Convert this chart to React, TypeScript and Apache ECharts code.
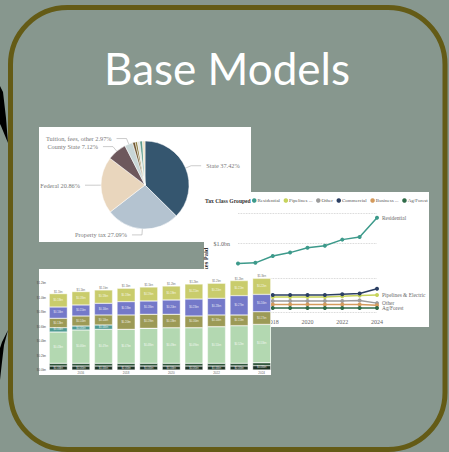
import React, { useEffect, useRef } from "react";
import * as echarts from "echarts";

// ---------- data ----------
const pieNames = ["State", "Property tax", "Federal", "County State", "Tuition, fees, other", "Misc A", "Misc B", "Misc C", "Misc D", "Misc E"];
const pieValues = [37.42, 27.09, 20.86, 7.12, 2.97, 0.95, 0.8, 0.9, 1.0, 0.89];
const pieLabeled = [true, true, true, true, true, false, false, false, false, false];
const pieColors = ["#35566f", "#b4c3d0", "#e9d6bd", "#6d585c", "#c8d6d6", "#6e5530", "#8c7c3f", "#e0e4dc", "#5e9c8d", "#efe2c3"];

const lineYears = ["2016", "2017", "2018", "2019", "2020", "2021", "2022", "2023", "2024"];
const lineYearShown = [false, false, true, false, true, false, true, false, true];
const residential = [0.71, 0.72, 0.82, 0.87, 0.94, 0.97, 1.06, 1.1, 1.38];
const pipelines = [0.21, 0.21, 0.22, 0.22, 0.22, 0.22, 0.23, 0.24, 0.25];
const otherTax = [0.16, 0.16, 0.16, 0.16, 0.16, 0.16, 0.16, 0.17, 0.13];
const commercial = [0.24, 0.24, 0.25, 0.25, 0.25, 0.25, 0.26, 0.27, 0.34];
const business = [0.11, 0.11, 0.11, 0.11, 0.11, 0.11, 0.11, 0.11, 0.1];
const agForest = [0.06, 0.06, 0.06, 0.06, 0.06, 0.06, 0.06, 0.06, 0.06];
const lineNames = ["Residential", "Pipelines & Electric", "Other", "Commercial", "Business Personal", "Ag/Forest"];
const lineColors = ["#3d9a8b", "#c6d35c", "#9c9c9c", "#2b3f63", "#d49a5c", "#2f6b48"];
const lineEndLabel = [true, true, true, false, false, true];
const lineTicksShown = [1.0];

const barYears = ["2015", "2016", "2017", "2018", "2019", "2020", "2021", "2022", "2023", "2024"];
const darkA = [0.055, 0.055, 0.055, 0.055, 0.055, 0.055, 0.055, 0.055, 0.055, 0.06];
const darkB = [0.037, 0.037, 0.037, 0.037, 0.037, 0.037, 0.037, 0.037, 0.037, 0.04];
const lightGreen = [0.432, 0.46, 0.469, 0.469, 0.483, 0.492, 0.492, 0.506, 0.52, 0.529];
const teal = [0.06, 0.055, 0.06, 0, 0, 0, 0, 0, 0, 0];
const olive = [0.129, 0.138, 0.138, 0.198, 0.193, 0.184, 0.161, 0.161, 0.147, 0.175];
const blue = [0.156, 0.152, 0.161, 0.184, 0.184, 0.198, 0.234, 0.23, 0.267, 0.239];
const yellow = [0.184, 0.184, 0.184, 0.184, 0.193, 0.193, 0.207, 0.207, 0.207, 0.221];
const barSeriesNames = ["Ag/Forest", "Other", "Residential", "Business Personal", "Pipelines & Electric", "Commercial", "Industrial"];
const barSeriesData = [darkA, darkB, lightGreen, teal, olive, blue, yellow];
const barColors = ["#1d3325", "#2d5439", "#b3d8b1", "#4f9a92", "#9c9a56", "#7479c9", "#c9cc6c"];

const SERIF = "'Liberation Serif', 'DejaVu Serif', serif";

export default function App() {
  const ref = useRef<HTMLDivElement>(null);

  useEffect(() => {
    if (!ref.current) return;
    const chart = echarts.init(ref.current, undefined, { renderer: "svg" });

    const totals = barYears.map((_, i) => barSeriesData.reduce((s, arr) => s + arr[i], 0));

    const lineSeries = lineNames.map((name, k) => ({
      type: "line",
      name,
      xAxisIndex: 0,
      yAxisIndex: 0,
      data: [residential, pipelines, otherTax, commercial, business, agForest][k],
      color: lineColors[k],
      symbol: "circle",
      symbolSize: 4,
      lineStyle: { width: 1.5, color: lineColors[k] },
      itemStyle: { color: lineColors[k] },
      z: 4,
      endLabel: {
        show: lineEndLabel[k],
        formatter: "{a}",
        fontSize: 5.4,
        fontFamily: SERIF,
        color: "#6a6a6a",
        distance: 5,
      },
    }));

    const barSeries: any[] = barSeriesNames.map((name, k) => ({
      type: "bar",
      name,
      stack: "total",
      xAxisIndex: 1,
      yAxisIndex: 1,
      data: barSeriesData[k],
      barWidth: "80%",
      clip: false,
      z: 6,
      itemStyle: { color: barColors[k], borderColor: "#ffffff", borderWidth: 0.4 },
      label: {
        show: true,
        position: "inside",
        fontSize: 2.6,
        color: "rgba(255,255,255,0.85)",
        formatter: (p: any) => (p.value >= 0.05 ? "$" + Number(p.value).toFixed(2) + "bn" : ""),
      },
    }));
    barSeries.push({
      type: "bar",
      name: "Total",
      stack: "total",
      xAxisIndex: 1,
      yAxisIndex: 1,
      data: barYears.map(() => 0),
      barWidth: "80%",
      clip: false,
      z: 6,
      itemStyle: { color: "transparent" },
      label: {
        show: true,
        position: "top",
        distance: 1,
        fontSize: 2.8,
        color: "#777",
        formatter: (p: any) => "$" + totals[p.dataIndex].toFixed(1) + "bn",
      },
    });

    chart.setOption({
      animation: false,
      backgroundColor: "#87978e",
      graphic: [
        // left arrow tips
        { type: "polygon", z: 0, shape: { points: [[0, 86], [3, 92], [6, 118], [8, 143], [1, 126], [0, 124]] }, style: { fill: "#000" } },
        { type: "polygon", z: 0, shape: { points: [[8, 330], [2, 342], [0, 348], [0, 380], [2, 362], [4, 345]] }, style: { fill: "#000" } },
        // frame
        {
          type: "rect",
          z: 0,
          shape: { x: 10.5, y: 7.5, width: 434.5, height: 442, r: 57 },
          style: { fill: "#87978e", stroke: "#645b16", lineWidth: 5 },
        },
        // title
        {
          type: "text",
          z: 1,
          x: 227,
          y: 68,
          style: {
            text: "Base Models",
            fill: "#ffffff",
            font: "400 44px Lato, 'Open Sans', sans-serif",
            align: "center",
            verticalAlign: "middle",
          },
        },
        // pie image backdrop
        { type: "rect", z: 1, shape: { x: 39, y: 127, width: 212, height: 115 }, style: { fill: "#ffffff" } },
        // line image backdrop
        { type: "rect", z: 3, shape: { x: 204, y: 192, width: 225, height: 135 }, style: { fill: "#ffffff" } },
        {
          type: "text",
          z: 4,
          x: 205,
          y: 200.5,
          style: { text: "Tax Class Grouped", fill: "#333", font: "bold 5.6px " + SERIF, verticalAlign: "middle" },
        },
        // bar image backdrop
        { type: "rect", z: 5, shape: { x: 39, y: 269, width: 232, height: 106 }, style: { fill: "#ffffff" } },
      ],
      legend: {
        data: lineNames,
        left: 252,
        top: 198,
        padding: 0,
        icon: "circle",
        itemWidth: 4.5,
        itemHeight: 4.5,
        itemGap: 3.6,
        z: 4,
        textStyle: { fontSize: 5, fontFamily: SERIF, color: "#555", padding: [0, 0, 0, -4] },
        formatter: (name: string) => (name.indexOf(" ") > 0 ? name.split(" ")[0] + " ..." : name),
      },
      grid: [
        { left: 238, right: 72, top: 213, bottom: 140 },
        { left: 47, right: 176, top: 283, bottom: 82 },
      ],
      xAxis: [
        {
          type: "category",
          gridIndex: 0,
          data: lineYears,
          boundaryGap: false,
          z: 4,
          axisLine: { show: false },
          axisTick: { show: false },
          axisLabel: {
            interval: (i: number) => lineYearShown[i],
            fontSize: 6,
            fontFamily: SERIF,
            color: "#666",
            margin: 7,
          },
        },
        {
          type: "category",
          gridIndex: 1,
          data: barYears,
          z: 6,
          axisLine: { show: false },
          axisTick: { show: false },
          axisLabel: {
            interval: (i: number) => i % 2 === 1,
            fontSize: 3,
            color: "#666",
            margin: 1.5,
          },
        },
      ],
      yAxis: [
        {
          type: "value",
          gridIndex: 0,
          min: 0,
          max: 1.45,
          interval: 0.5,
          z: 4,
          name: "Taxes Paid",
          nameLocation: "middle",
          nameGap: 29,
          nameTextStyle: { fontSize: 6.5, fontWeight: "bold", fontFamily: SERIF, color: "#333" },
          axisLine: { show: false },
          axisTick: { show: false },
          splitLine: { lineStyle: { type: "dotted", color: "#c8c8c8", width: 0.8 } },
          axisLabel: {
            fontSize: 6,
            fontFamily: SERIF,
            color: "#666",
            margin: 8,
            formatter: (v: number) => (lineTicksShown.indexOf(v) >= 0 ? "$" + v.toFixed(1) + "bn" : ""),
          },
        },
        {
          type: "value",
          gridIndex: 1,
          min: 0,
          max: 1.2,
          interval: 0.2,
          z: 6,
          axisLine: { show: false },
          axisTick: { show: false },
          splitLine: { show: false },
          axisLabel: {
            fontSize: 3,
            color: "#555",
            margin: 1,
            formatter: (v: number) => "$" + v.toFixed(1) + "bn",
          },
        },
      ],
      series: [
        {
          type: "pie",
          name: "Revenue",
          z: 2,
          center: [145, 185],
          radius: 44,
          startAngle: 90,
          clockwise: true,
          avoidLabelOverlap: false,
          itemStyle: { borderColor: "#ffffff", borderWidth: 0.5 },
          label: { fontSize: 6.3, fontFamily: SERIF, color: "#7a7a7a", formatter: "{b} {d}%" },
          labelLine: { length: 6, length2: 10, lineStyle: { color: "#aaa", width: 0.6 } },
          data: pieNames.map((n, i) => ({
            name: n,
            value: pieValues[i],
            itemStyle: { color: pieColors[i] },
            label: { show: pieLabeled[i] },
            labelLine: { show: pieLabeled[i] },
          })),
        },
        ...lineSeries,
        ...barSeries,
      ],
    });

    return () => chart.dispose();
  }, []);

  return <div ref={ref} style={{ position: "absolute", left: 0, top: 0, width: 449, height: 452 }} />;
}
